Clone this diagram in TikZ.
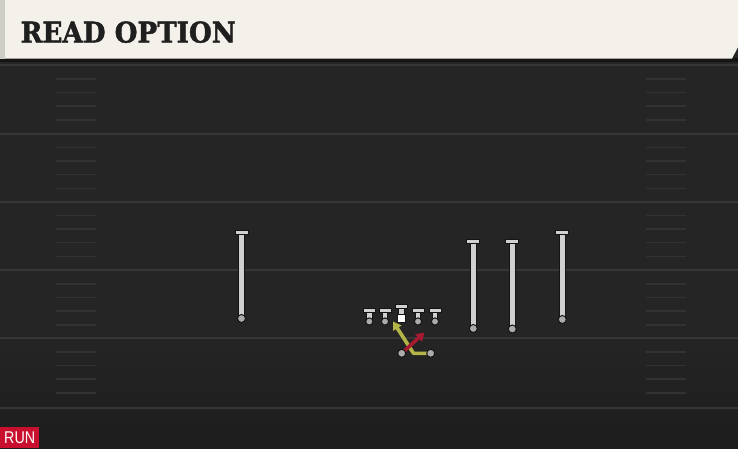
\documentclass[tikz,border=0pt]{standalone}
\usepackage{fontspec}
\usetikzlibrary{calc, arrows.meta}

\newfontfamily\titlefont{DejaVu Serif}[BoldFeatures = {FakeBold = 1.6}]
\newfontfamily\tagfont{Liberation Sans}

\definecolor{paper}{HTML}{F4F1EA}
\definecolor{paperedge}{HTML}{CFCDC7}
\definecolor{turf}{HTML}{252525}
\definecolor{turfdark}{HTML}{1D1D1D}
\definecolor{yardline}{HTML}{363636}
\definecolor{hashline}{HTML}{323232}
\definecolor{player}{HTML}{D0D0D0}
\definecolor{playeredge}{HTML}{141414}
\definecolor{ballgray}{HTML}{ABABAB}
\definecolor{runred}{HTML}{C8102E}
\definecolor{qbred}{HTML}{A51A2F}
\definecolor{rbgreen}{HTML}{B4B548}

\tikzset{
	yard/.style = {draw = yardline, line width = 2pt},
	hash/.style = {draw = hashline, line width = 1.6pt},
	stem edge/.style = {draw = playeredge, line width = 6.5pt},
	stem/.style = {draw = player, line width = 4.5pt},
	bar/.style = {fill = player, draw = playeredge, line width = 1pt},
	ball/.style = {fill = ballgray, draw = playeredge, line width = 1pt},
	route/.style = {line width = 3.6pt, -{Triangle[length = 8pt, width = 9.5pt]}}
}

\begin{document}
\begin{tikzpicture}[x = 1pt, y = -1pt]
		\def\W{738};
		\def\H{448};
		\def\hashL{56};
		\def\hashR{646};
		\def\hashlen{40};
		
		\useasboundingbox (0,0) rectangle (\W,\H);
		
		\fill[turf] (0,0) rectangle (\W,\H);
		\fill[top color = turf, bottom color = turfdark] (0,330) rectangle (\W,\H);
		
		\foreach \y in {65,133.5,201.5,270,338,408}
			\draw[yard] (0,\y) -- (\W,\y);
		
		\foreach \y in {65,133.5,201.5,270,338}
			\foreach \d in {14,27.5,41,55} {
				\draw[hash] (\hashL,\y+\d) -- ++(\hashlen,0);
				\draw[hash] (\hashR,\y+\d) -- ++(\hashlen,0);
			}
		
		\fill[black!92] (0,58) rectangle (\W,62);
		\fill[paper] (5,0) -- (\W,0) -- (\W,47) -- (732,58.5) -- (5,58.5) -- cycle;
		\fill[paperedge] (0,0) rectangle (5,58.5);
		\node[anchor = base west, inner sep = 0, text = black!88, xscale = 0.92] (title) at (20.5,42.5)
			{\titlefont\bfseries\fontsize{28.5}{28.5}\selectfont READ OPTION};
		
		\node[fill = runred, text = white, anchor = south west, minimum width = 39pt, minimum height = 21pt, inner sep = 0] (run tag) at (0,\H)
			{\tagfont\fontsize{17}{17}\selectfont\scalebox{0.84}[1]{RUN}};
		
		\foreach \px/\ptop/\pbot in {241.5/230/318.5, 473.3/239.5/328.5, 512.3/239.5/329, 562.3/230/319.5} {
			\draw[stem edge] (\px,\ptop) -- (\px,\pbot);
			\draw[stem] (\px,\ptop) -- (\px,\pbot);
			\filldraw[bar] (\px-6.5,\ptop) rectangle (\px+6.5,\ptop+4);
			\filldraw[ball] (\px,\pbot) circle [radius = 4];
		}
		
		\foreach \px in {369.3,385,418,435} {
			\draw[stem edge] (\px,308.5) -- (\px,321.5);
			\draw[stem] (\px,308.5) -- (\px,321.5);
			\filldraw[bar] (\px-6,308.5) rectangle (\px+6,312.5);
			\filldraw[ball] (\px,321.5) circle [radius = 3.6];
		}
		
		\coordinate (center) at (401.3,304.5);
		\draw[stem edge] (center) -- ++(0,11);
		\draw[stem] (center) -- ++(0,11);
		\filldraw[bar] ($ (center) + (-6,0) $) rectangle ($ (center) + (6,4) $);
		\filldraw[fill = white, draw = playeredge, line width = 1pt] ($ (center) + (-4,9.5) $) rectangle ($ (center) + (4,17.5) $);
		
		\coordinate (qb) at (401.7,353.3);
		\coordinate (rb) at (430.7,353.3);
		\coordinate (rb turn) at (413.5,353.3);
		\coordinate (rb end) at (393,321.5);
		\coordinate (qb end) at (424.5,332.5);
		
		\draw[route, rbgreen, line join = round] (rb) -- (rb turn) -- (rb end);
		\draw[route, qbred] (qb) -- (qb end);
		
		\filldraw[ball] (qb) circle [radius = 4];
		\filldraw[ball] (rb) circle [radius = 4];
	\end{tikzpicture}
\end{document}
